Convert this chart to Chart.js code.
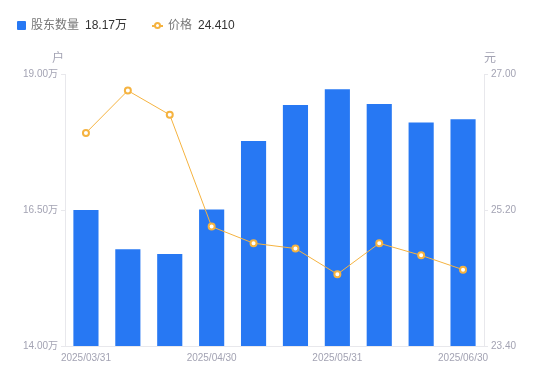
<!DOCTYPE html>
<html><head><meta charset="utf-8">
<script src="https://cdn.jsdelivr.net/npm/chart.js@4"></script>
<style>
html,body{margin:0;padding:0;background:#fff;}
#wrap{position:relative;width:550px;height:381px;}
canvas{position:absolute;left:0;top:0;}
.lg{position:absolute;top:16px;font:12px "Liberation Sans","Noto Sans CJK SC",sans-serif;color:#777;white-space:nowrap;line-height:18px;}
.lg b{font-weight:normal;color:#333;margin-left:6px;font-size:12px;}
.sq{display:inline-block;width:9px;height:9px;background:#2778f3;border-radius:1px;margin-right:5px;vertical-align:-1px;}
.ln{display:inline-block;position:relative;width:11px;height:9px;margin-right:5px;vertical-align:-1px;}
.ln:before{content:"";position:absolute;left:0;right:0;top:4px;height:1.5px;background:#f5b340;}
.ln:after{content:"";position:absolute;left:2px;top:1px;width:3px;height:3px;border:2px solid #f5b340;border-radius:50%;background:#fff;}
</style></head>
<body><div id="wrap"><canvas id="c" width="550" height="381"></canvas>
<div class="lg" style="left:17px"><span class="sq"></span>股东数量<b id="v1"></b></div>
<div class="lg" style="left:152px"><span class="ln"></span>价格<b id="v2"></b></div>
</div>
<script>
const categories = ["2025/03/31","2025/04/10","2025/04/20","2025/04/30","2025/05/10","2025/05/20","2025/05/31","2025/06/10","2025/06/20","2025/06/30"];
const holders = [16.50, 15.78, 15.69, 16.51, 17.77, 18.43, 18.72, 18.45, 18.11, 18.17];
const prices = [26.22, 26.78, 26.46, 24.98, 24.76, 24.69, 24.35, 24.76, 24.60, 24.41];
const leftTicks = [14.00, 16.50, 19.00];
const rightTicks = [23.40, 25.20, 27.00];

document.getElementById('v1').textContent = holders[holders.length-1].toFixed(2) + '万';
document.getElementById('v2').textContent = prices[prices.length-1].toFixed(3);

const FONT = '"Liberation Sans","Noto Sans CJK SC",sans-serif';
const tickColor = '#a3a3b3';
const lineCol = '#e8e8ec';

const titles = {
  id:'titles',
  afterDraw(chart){
    const ctx = chart.ctx, a = chart.chartArea;
    ctx.save();
    ctx.font = '12px ' + FONT;
    ctx.fillStyle = tickColor;
    ctx.textBaseline = 'alphabetic';
    ctx.textAlign = 'center';
    ctx.fillText('户', a.left - 7, 62);
    ctx.fillText('元', a.right + 6, 62);
    ctx.restore();
  }
};

new Chart(document.getElementById('c'), {
  data: {
    labels: categories,
    datasets: [
      {type:'line', label:'价格', data:prices, yAxisID:'y1', borderColor:'#f5b340', borderWidth:1,
       pointRadius:3, pointBorderWidth:2, pointBackgroundColor:'#fff', pointBorderColor:'#f5b340', tension:0, order:0},
      {type:'bar', label:'股东数量', data:holders, yAxisID:'y', backgroundColor:'#2778f3',
       categoryPercentage:0.6, barPercentage:1.0, order:1}
    ]
  },
  options: {
    responsive:false, animation:false,
    layout:{padding:{top:74, left:0, right:0, bottom:0}},
    plugins:{legend:{display:false}, tooltip:{enabled:false}},
    scales:{
      x:{
        grid:{display:true, drawOnChartArea:false, drawTicks:false, color:'rgba(0,0,0,0)'},
        border:{display:true, color:lineCol},
        ticks:{autoSkip:false, maxRotation:0, color:tickColor, font:{size:10, family:FONT}, padding:6,
          callback:function(v,i){ return i%3===0 ? categories[i] : ''; }},
        afterFit(s){ s.height = 35; }
      },
      y:{
        position:'left', min:14, max:19,
        afterBuildTicks(s){ s.ticks = leftTicks.map(v=>({value:v})); },
        grid:{display:true, drawOnChartArea:false, drawTicks:true, tickLength:4, color:lineCol},
        border:{display:true, color:lineCol},
        ticks:{color:tickColor, font:{size:10, family:FONT}, padding:3,
          callback:v=>v.toFixed(2)+'万'},
        afterFit(s){ s.width = 65; }
      },
      y1:{
        position:'right', min:23.4, max:27,
        afterBuildTicks(s){ s.ticks = rightTicks.map(v=>({value:v})); },
        grid:{display:true, drawOnChartArea:false, drawTicks:true, tickLength:4, color:lineCol},
        border:{display:true, color:lineCol},
        ticks:{color:tickColor, font:{size:10, family:FONT}, padding:3,
          callback:v=>v.toFixed(2)},
        afterFit(s){ s.width = 66; }
      }
    }
  },
  plugins:[titles]
});
</script></body></html>
